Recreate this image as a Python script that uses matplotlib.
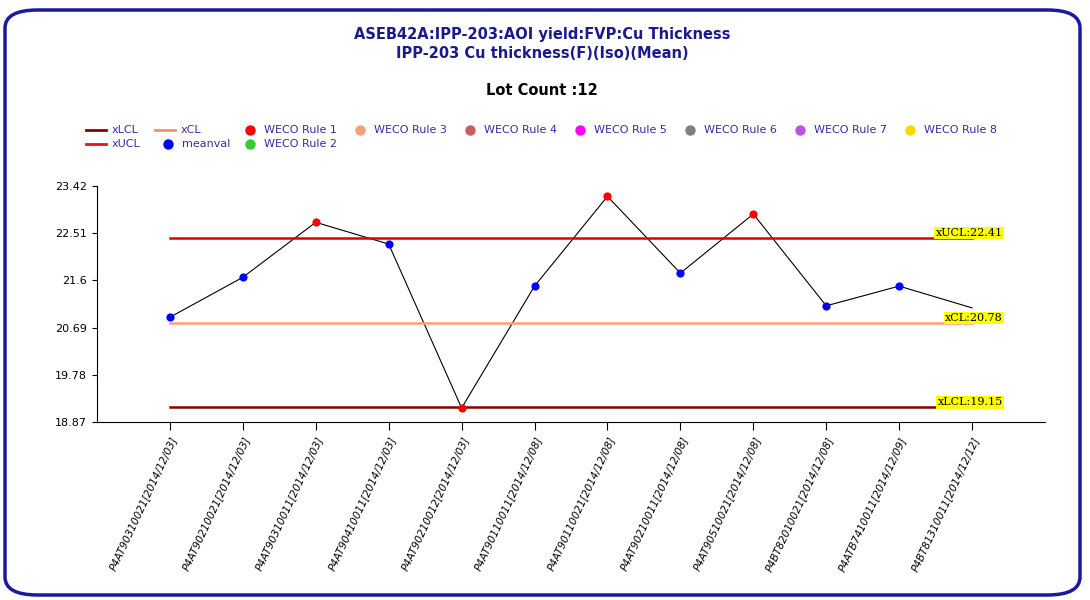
import matplotlib
matplotlib.use("Agg")
import matplotlib.pyplot as plt
from matplotlib.patches import FancyBboxPatch
from matplotlib.lines import Line2D

labels = ["P4AT90310021[2014/12/03]","P4AT90210021[2014/12/03]","P4AT90310011[2014/12/03]",
          "P4AT90410011[2014/12/03]","P4AT90210012[2014/12/03]","P4AT90110011[2014/12/08]",
          "P4AT90110021[2014/12/08]","P4AT90210011[2014/12/08]","P4AT90510021[2014/12/08]",
          "P4BT82010021[2014/12/08]","P4ATB7410011[2014/12/09]","P4BT81310011[2014/12/12]"]
values = [20.89, 21.66, 22.72, 22.30, 19.14, 21.49, 23.22, 21.74, 22.88, 21.11, 21.49, 21.07]
rule1 = [False, False, True, False, True, False, True, False, True, False, False, False]
ucl, cl, lcl = 22.41, 20.78, 19.15
yticks = [18.87, 19.78, 20.69, 21.6, 22.51, 23.42]

W, H = 1090, 600
fig = plt.figure(figsize=(W/100, H/100), dpi=100)
fig.patches.append(FancyBboxPatch((5/W, 5/H), 1075/W, 585/H, boxstyle="round,pad=0,rounding_size=0.03",
                                  transform=fig.transFigure, fill=False, ec="#1a1a9a", lw=2.5))
ax = fig.add_axes([97/W, 1-422/H, (1045-97)/W, (422-186)/H])
x = list(range(len(values)))
ax.plot(x, values, color="black", lw=0.8, zorder=2)
for i, v in enumerate(values):
    if i == len(values) - 1:
        continue
    ax.scatter(i, v, s=24, color="red" if rule1[i] else "blue", zorder=3)
ax.plot([0, 11], [ucl, ucl], color="#dd0000", lw=1.8)
ax.plot([0, 11], [cl, cl], color="#f4a07a", lw=1.8)
ax.plot([0, 11], [lcl, lcl], color="#8b0000", lw=1.8)
for val, name in [(ucl, "xUCL"), (cl, "xCL"), (lcl, "xLCL")]:
    ax.text(11.42, val, f"{name}:{val:.2f}", ha="right", va="bottom", fontsize=8, family="DejaVu Serif",
            bbox=dict(boxstyle="square,pad=0.1", fc="yellow", ec="none"))
ax.set_xlim(-1, 12)
ax.set_ylim(18.87, 23.42)
ax.set_yticks(yticks)
ax.set_yticklabels([f"{t:g}" for t in yticks], fontsize=8)
ax.set_xticks(x)
ax.set_xticklabels(labels, rotation=65, ha="right", rotation_mode="anchor", fontsize=7.5, style="italic")
ax.tick_params(axis="x", length=6)
ax.spines["top"].set_visible(False)
ax.spines["right"].set_visible(False)

fig.text(542/W, 1-35/H, "ASEB42A:IPP-203:AOI yield:FVP:Cu Thickness", ha="center", va="center",
         fontsize=10.5, weight="bold", color="#1a1a8c")
fig.text(542/W, 1-53/H, "IPP-203 Cu thickness(F)(Iso)(Mean)", ha="center", va="center",
         fontsize=10.5, weight="bold", color="#1a1a8c")
fig.text(542/W, 1-91/H, "Lot Count :12", ha="center", va="center", fontsize=10.5, weight="bold")

def item(px, py, kind, color, text):
    if kind == "line":
        fig.add_artist(Line2D([px/W, (px+20)/W], [1-py/H]*2, color=color, lw=2, transform=fig.transFigure))
        tx = px + 26
    else:
        fig.add_artist(Line2D([(px+8)/W], [1-py/H], marker="o", ms=6.5, color=color, ls="none", transform=fig.transFigure))
        tx = px + 22
    fig.text(tx/W, 1-py/H, text, va="center", fontsize=8, color="#3a2aa0")

item(86, 130, "line", "#8b0000", "xLCL")
item(86, 144, "line", "#ee1111", "xUCL")
item(155, 130, "line", "#f4906a", "xCL")
item(160, 144, "dot", "blue", "meanval")
item(242, 130, "dot", "red", "WECO Rule 1")
item(242, 144, "dot", "#33cc33", "WECO Rule 2")
item(352, 130, "dot", "#f4a07a", "WECO Rule 3")
item(462, 130, "dot", "#cd5c5c", "WECO Rule 4")
item(572, 130, "dot", "magenta", "WECO Rule 5")
item(682, 130, "dot", "gray", "WECO Rule 6")
item(792, 130, "dot", "#bb55dd", "WECO Rule 7")
item(902, 130, "dot", "gold", "WECO Rule 8")

fig.savefig("out.png", dpi=100)
